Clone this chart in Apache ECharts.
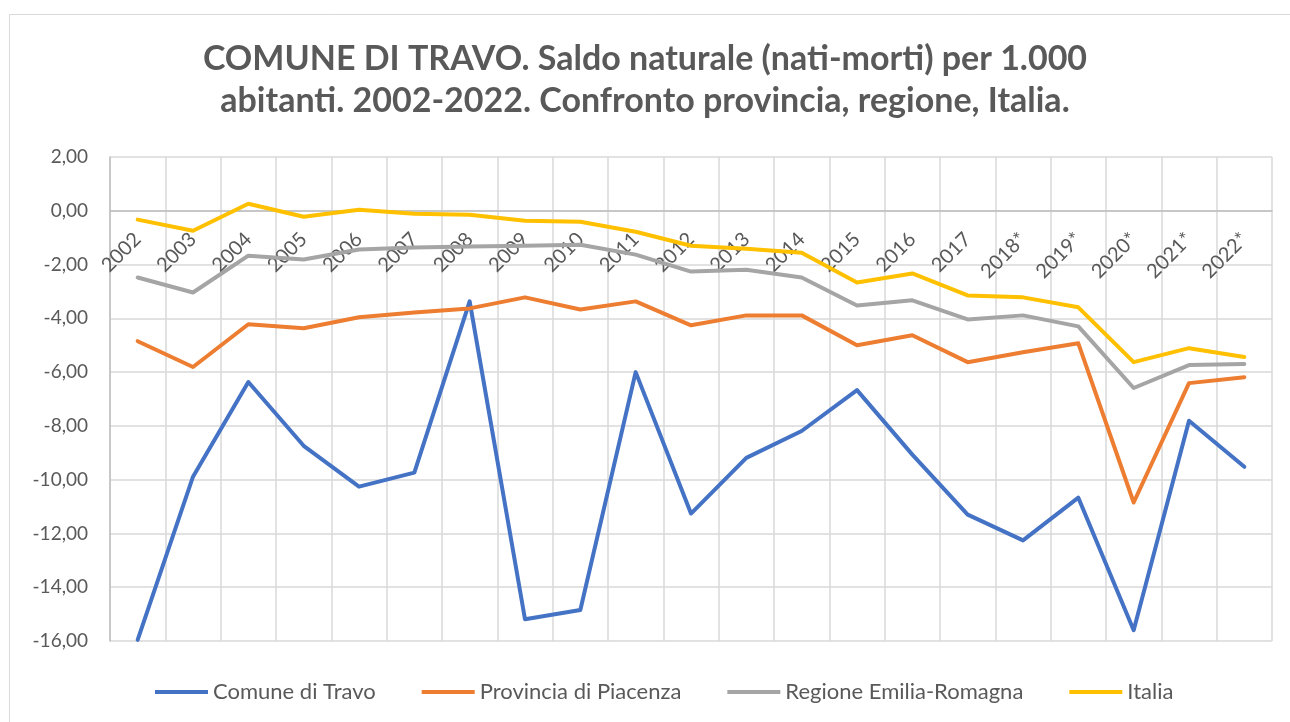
<!DOCTYPE html>
<html>
<head>
<meta charset="utf-8">
<script src="https://cdn.jsdelivr.net/npm/echarts@6/dist/echarts.min.js"></script>
<style>
  html, body { margin: 0; padding: 0; background: #fff; }
  #chart { width: 1290px; height: 722px; }
</style>
</head>
<body>
<div id="chart"></div>
<script>
const years = ['2002', '2003', '2004', '2005', '2006', '2007', '2008', '2009', '2010', '2011',
  '2012', '2013', '2014', '2015', '2016', '2017', '2018*', '2019*', '2020*', '2021*', '2022*'];

const comuneTravo = [-15.96, -9.89, -6.37, -8.74, -10.26, -9.74, -3.37, -15.19, -14.85, -6.0,
  -11.26, -9.19, -8.19, -6.67, -9.07, -11.3, -12.26, -10.67, -15.6, -7.81, -9.52];

const provinciaPiacenza = [-4.85, -5.81, -4.22, -4.37, -3.96, -3.78, -3.63, -3.22, -3.67, -3.37,
  -4.26, -3.89, -3.89, -5.0, -4.63, -5.63, -5.26, -4.93, -10.85, -6.41, -6.19];

const regioneER = [-2.48, -3.04, -1.67, -1.81, -1.44, -1.37, -1.33, -1.30, -1.26, -1.63,
  -2.26, -2.19, -2.48, -3.52, -3.33, -4.04, -3.89, -4.30, -6.59, -5.74, -5.70];

const italia = [-0.33, -0.74, 0.26, -0.22, 0.04, -0.11, -0.15, -0.37, -0.41, -0.78,
  -1.30, -1.41, -1.56, -2.67, -2.33, -3.15, -3.22, -3.59, -5.63, -5.11, -5.44];

const seriesNames = ['Comune di Travo', 'Provincia di Piacenza', 'Regione Emilia-Romagna', 'Italia'];
const colors = ['#4472C4', '#ED7D31', '#A5A5A5', '#FFC000'];
const font = 'Lato, "Open Sans", sans-serif';

const chart = echarts.init(document.getElementById('chart'));

function lineSeries(name, data, color) {
  return {
    name: name,
    type: 'line',
    data: data,
    symbol: 'none',
    smooth: false,
    lineStyle: { color: color, width: 4, cap: 'round', join: 'round' },
    itemStyle: { color: color }
  };
}

// grid: top 157, height 484, value range 2 .. -16 -> zero line sits 430px above the bottom
const gridTop = 157, gridBottom = 81, yMin = -16, yMax = 2;
const gridH = 722 - gridTop - gridBottom;
const zeroOffset = -Math.round(gridH * (0 - yMin) / (yMax - yMin));

const option = {
  animation: false,
  backgroundColor: '#fff',
  color: colors,
  title: {
    text: 'COMUNE DI TRAVO. Saldo naturale (nati-morti) per 1.000\nabitanti. 2002-2022. Confronto provincia, regione, Italia.',
    left: 'center',
    top: 33,
    textStyle: {
      fontFamily: font,
      fontSize: 34,
      fontWeight: 'bold',
      color: '#595959',
      lineHeight: 42
    }
  },
  legend: {
    bottom: 14,
    left: 150,
    icon: 'rect',
    itemWidth: 53,
    itemHeight: 4,
    itemGap: 46,
    textStyle: { fontFamily: font, fontSize: 22, color: '#595959' },
    data: seriesNames
  },
  grid: { left: 110, right: 18, top: gridTop, bottom: gridBottom, containLabel: false },
  xAxis: {
    type: 'category',
    data: years,
    boundaryGap: true,
    position: 'bottom',
    offset: zeroOffset,
    axisLine: { onZero: false, lineStyle: { color: '#bfbfbf', width: 1.5 } },
    axisTick: { show: false },
    axisLabel: {
      rotate: 45,
      margin: 25,
      fontFamily: font,
      fontSize: 20,
      color: '#595959',
      interval: 0
    },
    splitLine: { show: true, interval: 0, lineStyle: { color: '#d9d9d9', width: 1.5 } }
  },
  yAxis: {
    type: 'value',
    min: yMin,
    max: yMax,
    interval: 2,
    axisLine: { show: true, lineStyle: { color: '#bfbfbf', width: 1.5 } },
    axisTick: { show: false },
    axisLabel: {
      margin: 22,
      fontFamily: font,
      fontSize: 19,
      color: '#595959',
      formatter: v => v.toFixed(2).replace('.', ',')
    },
    splitLine: { show: true, lineStyle: { color: '#d9d9d9', width: 1.5 } }
  },
  graphic: [{
    type: 'rect',
    shape: { x: 9.5, y: 14.5, width: 1300, height: 720 },
    style: { fill: 'none', stroke: '#d9d9d9', lineWidth: 1 },
    silent: true
  }],
  series: [
    lineSeries(seriesNames[0], comuneTravo, colors[0]),
    lineSeries(seriesNames[1], provinciaPiacenza, colors[1]),
    lineSeries(seriesNames[2], regioneER, colors[2]),
    lineSeries(seriesNames[3], italia, colors[3])
  ]
};

chart.setOption(option);
</script>
</body>
</html>
